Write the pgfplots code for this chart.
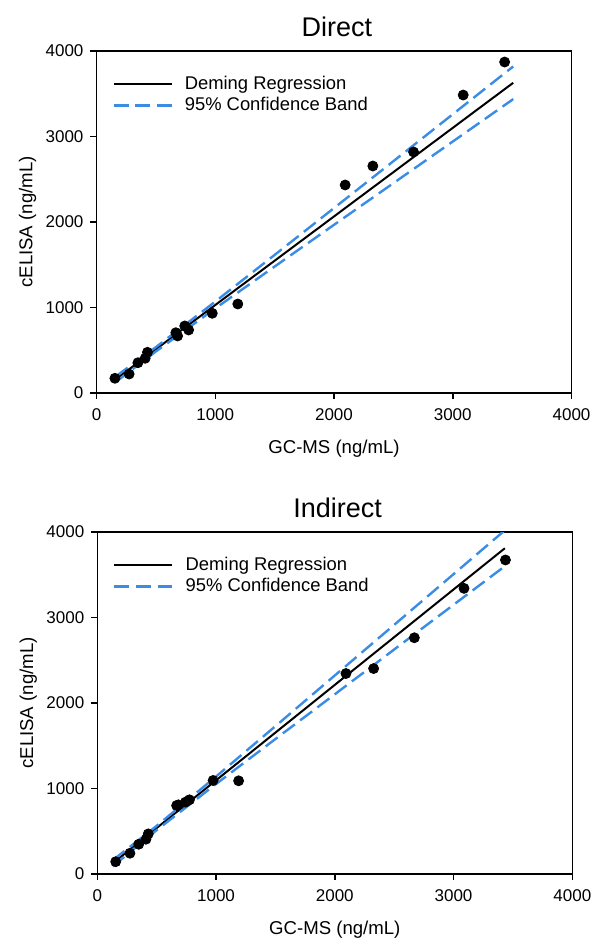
\documentclass[border=0pt]{standalone}
\usepackage{pgfplots}
\pgfplotsset{compat=1.18}
\usepackage{fontspec}
\setmainfont{Liberation Sans}
\definecolor{bandblue}{RGB}{58,140,228}

\pgfplotsset{
  elisa/.style={
    scale only axis,
    width=237.5pt, height=171pt,
    xmin=0, xmax=4000, ymin=0, ymax=4000,
    xtick={0,1000,...,4000}, ytick={0,1000,...,4000},
    tick align=outside, tick pos=left,
    major tick length=3pt,
    axis line style={line width=0.75pt},
    every tick/.style={black, line width=0.75pt},
    /pgf/number format/assume math mode=true,
    /pgf/number format/1000 sep={},
    tick label style={font=\fontsize{8.5}{10}\selectfont},
    xticklabel style={yshift=-1.5pt},
    label style={font=\fontsize{9.3}{11}\selectfont},
    xlabel={GC-MS (ng/mL)}, ylabel={cELISA (ng/mL)},
    xlabel style={at={(axis description cs:0.5,-0.163)}, anchor=center},
    ylabel style={at={(axis description cs:-0.145,0.5)}, anchor=center},
    every axis title shift=0pt,
    title style={at={(axis description cs:0.506,1.07)}, anchor=center,
      font=\fontsize{13.5}{15}\selectfont},
    legend style={at={(0.02,0.952)}, anchor=north west, draw=none, fill=none,
      font=\fontsize{9.2}{11}\selectfont, row sep=-1.5pt},
    legend cell align=left,
    legend image code/.code={\draw[#1] (0pt,0pt) -- (29pt,0pt); \path (33pt,0pt);},
  },
  deming/.style={black, line width=1pt, no marks},
  band/.style={bandblue, line width=1.2pt, dash pattern=on 7.5pt off 3.3pt, no marks},
  pts/.style={only marks, mark=*, mark size=2.5pt, black, mark options={fill=black}},
}

\begin{document}
\begin{tikzpicture}
\path[use as bounding box] (-48.25pt,-274pt) rectangle (249.25pt,196.5pt);

% Direct
\begin{axis}[elisa, at={(0pt,0pt)}, anchor=south west, title={Direct}]
  \addplot[deming] coordinates {(160,159) (3509,3628)};
  \addlegendentry{Deming Regression}
  \addplot[band] coordinates {
    (160,192) (500,536) (1000,1069) (1500,1615) (2000,2163)
    (2500,2711) (3000,3260) (3509,3819)};
  \addlegendentry{95\% Confidence Band}
  \addplot[band, forget plot] coordinates {
    (160,126) (500,486) (1000,989) (1500,1479) (2000,1967)
    (2500,2454) (3000,2941) (3509,3437)};
  \addplot[pts, forget plot] coordinates {
    (155,172) (275,222) (349,354) (410,406) (429,476) (668,705)
    (683,667) (743,784) (776,737) (975,932) (1190,1041) (2094,2433)
    (2327,2655) (2670,2819) (3088,3485) (3437,3871)};
\end{axis}

% Indirect
\begin{axis}[elisa, at={(0.4pt,-240.5pt)}, anchor=south west, title={Indirect}]
  \addplot[deming] coordinates {(130,125) (3432,3810)};
  \addlegendentry{Deming Regression}
  \addplot[band] coordinates {
    (130,161) (500,563) (1000,1140) (1500,1729) (2000,2322)
    (2500,2914) (3000,3507) (3432,4020)};
  \addlegendentry{95\% Confidence Band}
  \addplot[band, forget plot] coordinates {
    (130,89) (500,513) (1000,1053) (1500,1579) (2000,2102)
    (2500,2626) (3000,3149) (3432,3600)};
  \addplot[pts, forget plot] coordinates {
    (155,144) (275,243) (349,348) (410,407) (429,469) (668,801)
    (683,809) (743,841) (776,868) (975,1094) (1190,1090) (2094,2345)
    (2327,2403) (2670,2763) (3088,3341) (3437,3673)};
\end{axis}
\end{tikzpicture}
\end{document}
